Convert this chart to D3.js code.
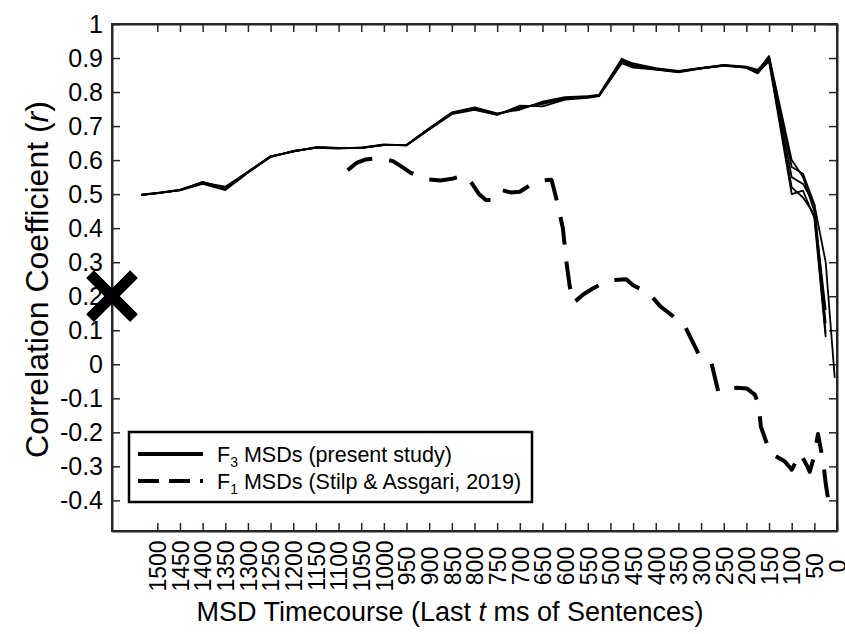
<!DOCTYPE html>
<html>
<head>
<meta charset="utf-8">
<script src="https://cdn.jsdelivr.net/npm/d3@7"></script>
<style>
  body { margin: 0; background: #fff; }
  svg text { font-family: "Liberation Sans", Arial, sans-serif; fill: #000; }
</style>
</head>
<body>
<div id="vis"></div>
<script>
const W = 845, H = 634;
const margin = {top: 24, right: 8, bottom: 103, left: 112};
const width = W - margin.left - margin.right;
const height = H - margin.top - margin.bottom;

const xTickValues = [1500,1450,1400,1350,1300,1250,1200,1150,1100,1050,1000,950,900,850,800,750,700,650,600,550,500,450,400,350,300,250,200,150,100,50,0];
const yTickValues = [-0.4,-0.3,-0.2,-0.1,0,0.1,0.2,0.3,0.4,0.5,0.6,0.7,0.8,0.9,1];

// F3 MSDs, several overlapping runs (present study)
const f3Times = [1535,1500,1450,1400,1350,1300,1250,1200,1150,1100,1050,1000,950,900,850,800,750,700,650,600,550,525,475,450,400,350,300,250,200,175,150,100,75,50,25,5];
const f3Run1 = [0.498,0.503,0.512,0.536,0.517,0.565,0.610,0.626,0.637,0.635,0.636,0.645,0.644,0.692,0.738,0.752,0.735,0.752,0.768,0.782,0.786,0.790,0.893,0.878,0.868,0.860,0.870,0.878,0.873,0.860,0.903,0.580,0.560,0.470,0.300,-0.040];
const f3Run2 = [0.497,0.503,0.511,0.530,0.512,0.563,0.609,0.627,0.636,0.634,0.637,0.646,0.643,0.690,0.735,0.748,0.733,0.760,0.758,0.778,0.783,0.788,0.885,0.872,0.866,0.858,0.869,0.879,0.871,0.855,0.895,0.520,0.490,0.440,0.090];
const f3Run3 = [0.499,0.504,0.513,0.534,0.522,0.566,0.611,0.625,0.638,0.636,0.635,0.644,0.645,0.694,0.740,0.755,0.737,0.748,0.772,0.785,0.788,0.792,0.898,0.884,0.870,0.862,0.871,0.880,0.875,0.865,0.900,0.550,0.530,0.470,0.120];
const f3Run4 = [0.498,0.502,0.512,0.533,0.515,0.564,0.610,0.626,0.637,0.635,0.636,0.645,0.644,0.691,0.737,0.750,0.734,0.755,0.765,0.780,0.785,0.789,0.890,0.876,0.867,0.859,0.870,0.877,0.872,0.858,0.890,0.500,0.510,0.430,0.080];
const f3Run5 = [0.498,0.503,0.512,0.535,0.518,0.566,0.611,0.626,0.637,0.636,0.636,0.645,0.644,0.692,0.739,0.753,0.736,0.753,0.766,0.783,0.787,0.791,0.894,0.880,0.868,0.861,0.870,0.878,0.874,0.862,0.906,0.600,0.550,0.450,0.160];
const f3Runs = [f3Run1, f3Run2, f3Run3, f3Run4, f3Run5];

// F1 MSDs (Stilp & Assgari, 2019)
const f1Times = [1080,1060,1040,1020,1000,980,960,940,920,900,875,850,825,810,790,775,758,740,720,700,675,650,630,620,605,597,590,582,560,540,505,465,450,415,390,370,335,306,277,262,240,221,199,181,173,168,148,115,100,81,67,60,49,42,30,25,18];
const f1Values = [0.570,0.592,0.602,0.605,0.603,0.597,0.580,0.562,0.551,0.543,0.540,0.545,0.555,0.540,0.500,0.483,0.483,0.512,0.505,0.507,0.528,0.540,0.542,0.490,0.400,0.300,0.230,0.180,0.205,0.222,0.246,0.250,0.232,0.209,0.170,0.150,0.110,0.032,0.003,-0.080,-0.072,-0.069,-0.071,-0.090,-0.120,-0.183,-0.260,-0.286,-0.310,-0.262,-0.296,-0.316,-0.262,-0.205,-0.290,-0.350,-0.410];

// single earlier result marked with an X
const crossPoint = {time: 1600, r: 0.2};

const legendLabels = [
  {sub: "3", rest: " MSDs (present study)", dash: null},
  {sub: "1", rest: " MSDs (Stilp & Assgari, 2019)", dash: "21,10"}
];

const svg = d3.select('#vis')
  .append('svg')
  .attr('width', W)
  .attr('height', H)
  .append('g')
  .attr('transform', `translate(${margin.left},${margin.top})`);

const xScale = d3.scaleLinear().domain([1600, 0]).range([0, width]);
const yScale = d3.scaleLinear().domain([-0.49, 1]).range([height, 0]);

const axisColor = "#262626";
const tickLen = 8;

function styleAxis(g) {
  g.select(".domain").attr("stroke", axisColor).attr("stroke-width", 2);
  g.selectAll(".tick line").attr("stroke", axisColor).attr("stroke-width", 1.5);
}

// bottom axis with rotated labels
const xAxis = svg.append("g")
  .attr("transform", `translate(0,${height})`)
  .call(d3.axisBottom(xScale).tickValues(xTickValues).tickSizeInner(-tickLen).tickSizeOuter(0).tickFormat(d => String(d)));
styleAxis(xAxis);
xAxis.selectAll(".tick text")
  .attr("transform", "rotate(-90)")
  .attr("x", -35)
  .attr("y", 0)
  .attr("dy", "0.36em")
  .attr("text-anchor", "middle")
  .style("font-size", "23px");

// left axis
const yAxis = svg.append("g")
  .call(d3.axisLeft(yScale).tickValues(yTickValues).tickSizeInner(-tickLen).tickSizeOuter(0)
    .tickPadding(9).tickFormat(d => String(+d.toFixed(1))));
styleAxis(yAxis);
yAxis.selectAll(".tick text").style("font-size", "25px");

// top and right frame
const topAxis = svg.append("g")
  .call(d3.axisTop(xScale).tickValues(xTickValues).tickSizeInner(-tickLen).tickSizeOuter(0).tickFormat(""));
styleAxis(topAxis);
const rightAxis = svg.append("g")
  .attr("transform", `translate(${width},0)`)
  .call(d3.axisRight(yScale).tickValues(yTickValues).tickSizeInner(-tickLen).tickSizeOuter(0).tickFormat(""));
styleAxis(rightAxis);
svg.append("rect")
  .attr("x", 0).attr("y", 0).attr("width", width).attr("height", height)
  .attr("fill", "none").attr("stroke", axisColor).attr("stroke-width", 2);

// axis titles
svg.append("text")
  .attr("x", 450 - margin.left)
  .attr("y", height + 90)
  .attr("text-anchor", "middle")
  .style("font-size", "27px")
  .html('MSD Timecourse (Last <tspan font-style="italic">t</tspan> ms of Sentences)');

svg.append("text")
  .attr("transform", `translate(${-margin.left + 48},${height / 2 + 2}) rotate(-90)`)
  .attr("text-anchor", "middle")
  .style("font-size", "32px")
  .html('Correlation Coefficient (<tspan font-style="italic">r</tspan>)');

// data lines
const line = d3.line()
  .x(d => xScale(d[0]))
  .y(d => yScale(d[1]));

svg.selectAll(".f3")
  .data(f3Runs)
  .join("path")
  .attr("class", "f3")
  .attr("fill", "none")
  .attr("stroke", "#000")
  .attr("stroke-width", 1.8)
  .attr("stroke-linejoin", "round")
  .attr("d", run => line(run.map((v, i) => [f3Times[i], v])));

svg.append("path")
  .attr("fill", "none")
  .attr("stroke", "#000")
  .attr("stroke-width", 4)
  .attr("stroke-dasharray", "28,17")
  .attr("stroke-linejoin", "round")
  .attr("d", line(f1Values.map((v, i) => [f1Times[i], v])));

// X marker
const cx = xScale(crossPoint.time), cy = yScale(crossPoint.r), cs = 22;
svg.append("path")
  .attr("d", `M${cx - cs},${cy - cs}L${cx + cs},${cy + cs}M${cx - cs},${cy + cs}L${cx + cs},${cy - cs}`)
  .attr("stroke", "#000")
  .attr("stroke-width", 11)
  .attr("fill", "none");

// legend
const legend = svg.append("g").attr("transform", `translate(${129 - margin.left},${432 - margin.top})`);
legend.append("rect")
  .attr("width", 403).attr("height", 70)
  .attr("fill", "#fff").attr("stroke", "#000").attr("stroke-width", 2.5);

legendLabels.forEach((d, i) => {
  const ly = 22 + i * 27;
  legend.append("line")
    .attr("x1", 9).attr("x2", 74).attr("y1", ly).attr("y2", ly)
    .attr("stroke", "#000").attr("stroke-width", 4)
    .attr("stroke-dasharray", d.dash);
  const t = legend.append("text")
    .attr("x", 88).attr("y", ly + 8)
    .style("font-size", "21.5px");
  t.append("tspan").text("F");
  t.append("tspan").attr("dy", 5).style("font-size", "14px").text(d.sub);
  t.append("tspan").attr("dy", -5).text(d.rest);
});
</script>
</body>
</html>
